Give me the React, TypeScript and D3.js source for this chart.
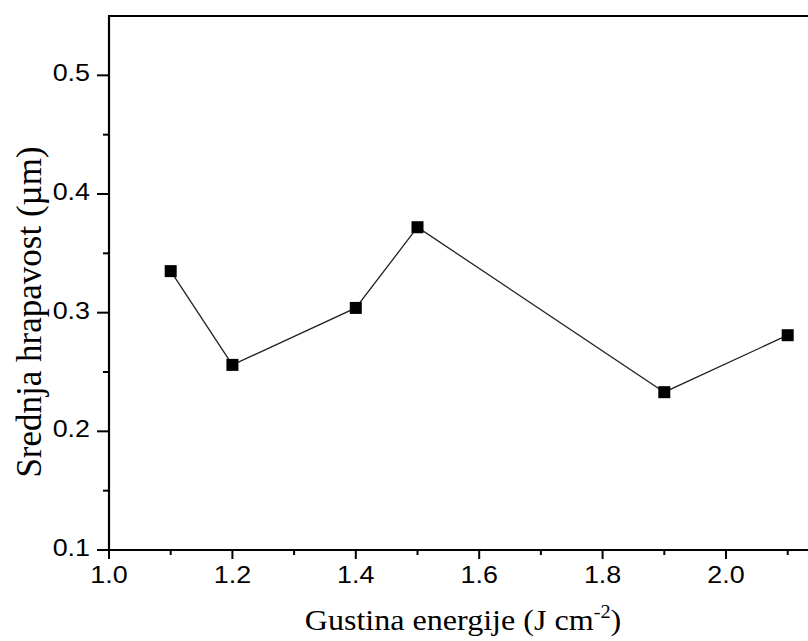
import React from "react";
import * as d3 from "d3";

const xValues = [1.1, 1.2, 1.4, 1.5, 1.9, 2.1];
const yValues = [0.335, 0.256, 0.304, 0.372, 0.233, 0.281];
const xMajorTicks = [1.0, 1.2, 1.4, 1.6, 1.8, 2.0];
const xMinorTicks = [1.1, 1.3, 1.5, 1.7, 1.9, 2.1];
const yMajorTicks = [0.1, 0.2, 0.3, 0.4, 0.5];
const yMinorTicks = [0.15, 0.25, 0.35, 0.45];

export default function App() {
  const W = 808, H = 641;
  const left = 109, top = 16, bottom = 550;
  const x = d3.scaleLinear().domain([1.0, 2.0]).range([left, 726]);
  const y = d3.scaleLinear().domain([0.1, 0.55]).range([bottom, top]);
  const line = d3.line<number>().x((_, i) => x(xValues[i])).y((d) => y(d));
  const sans = "'Liberation Sans', Arial, sans-serif";
  const serif = "'Liberation Serif', 'Times New Roman', serif";
  const sx = 1.12;
  return (
    <svg width={W} height={H} style={{ position: "absolute", left: 0, top: 0, background: "#fff" }}>
      <rect x={0} y={0} width={W} height={H} fill="#fff" />
      <path d={line(yValues) || ""} fill="none" stroke="#222" strokeWidth={1.3} />
      {yValues.map((v, i) => (
        <rect key={i} x={x(xValues[i]) - 6} y={y(v) - 6} width={12} height={12} fill="#000" />
      ))}
      <line x1={left} x2={W + 10} y1={top} y2={top} stroke="#000" strokeWidth={2.2} />
      <line x1={left} x2={W + 10} y1={bottom} y2={bottom} stroke="#000" strokeWidth={2.2} />
      <line x1={left} x2={left} y1={top - 1} y2={bottom + 1} stroke="#000" strokeWidth={2.2} />
      {xMajorTicks.map((t) => (
        <g key={"xm" + t}>
          <line x1={x(t)} x2={x(t)} y1={bottom} y2={bottom + 9} stroke="#000" strokeWidth={2} />
          <text
            transform={`translate(${x(t)},583) scale(${sx},1)`}
            textAnchor="middle"
            fontFamily={sans}
            fontSize={24}
            fill="#000"
          >
            {t.toFixed(1)}
          </text>
        </g>
      ))}
      {xMinorTicks.map((t) => (
        <line key={"xn" + t} x1={x(t)} x2={x(t)} y1={bottom} y2={bottom + 5} stroke="#000" strokeWidth={2} />
      ))}
      {yMajorTicks.map((t) => (
        <g key={"ym" + t}>
          <line x1={left} x2={left - 12} y1={y(t)} y2={y(t)} stroke="#000" strokeWidth={2} />
          <text
            transform={`translate(90,${y(t) + 6}) scale(${sx},1)`}
            textAnchor="end"
            fontFamily={sans}
            fontSize={24}
            fill="#000"
          >
            {t.toFixed(1)}
          </text>
        </g>
      ))}
      {yMinorTicks.map((t) => (
        <line key={"yn" + t} x1={left} x2={left - 6} y1={y(t)} y2={y(t)} stroke="#000" strokeWidth={2} />
      ))}
      <text
        transform={`translate(41,${312}) rotate(-90)`}
        textAnchor="middle"
        fontFamily={serif}
        fontSize={35}
        fill="#000"
      >
        Srednja hrapavost (µm)
      </text>
      <text
        transform={`translate(463,630) scale(1.07,1)`}
        textAnchor="middle"
        fontFamily={serif}
        fontSize={30}
        fill="#000"
      >
        Gustina energije (J cm
        <tspan dy={-12} fontSize={19}>-2</tspan>
        <tspan dy={12}>)</tspan>
      </text>
    </svg>
  );
}
